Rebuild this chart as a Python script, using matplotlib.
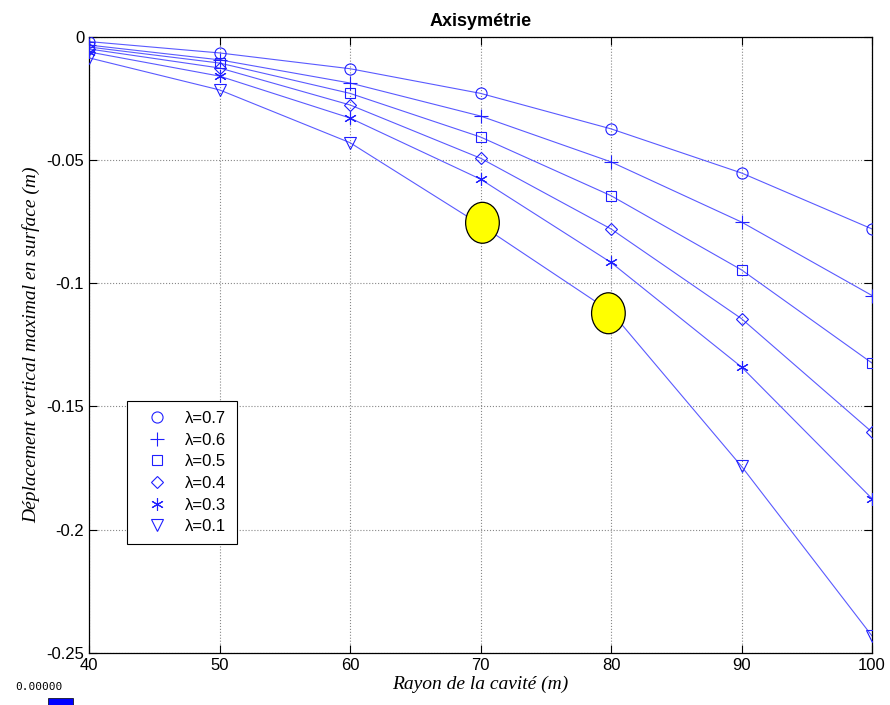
import matplotlib
matplotlib.use("Agg")
import matplotlib.pyplot as plt
from matplotlib.patches import Ellipse, Rectangle

rayon = [40, 50, 60, 70, 80, 90, 100]
lam_07 = [-0.0020, -0.0066, -0.0130, -0.0230, -0.0374, -0.0553, -0.0780]
lam_06 = [-0.0034, -0.0094, -0.0188, -0.0322, -0.0508, -0.0752, -0.1050]
lam_05 = [-0.0042, -0.0107, -0.0230, -0.0407, -0.0645, -0.0946, -0.1324]
lam_04 = [-0.0050, -0.0127, -0.0277, -0.0493, -0.0780, -0.1144, -0.1604]
lam_03 = [-0.0062, -0.0160, -0.0330, -0.0578, -0.0916, -0.1340, -0.1874]
lam_01 = [-0.0086, -0.0216, -0.0430, -0.0763, -0.1116, -0.1743, -0.2431]
series = [lam_07, lam_06, lam_05, lam_04, lam_03, lam_01]
labels = ["λ=0.7", "λ=0.6", "λ=0.5", "λ=0.4", "λ=0.3", "λ=0.1"]
markers = ["o", "+", "s", "D", (6, 2, 0), "v"]
msizes = [8, 10, 7, 6, 9, 9]

highlight_x = [70.15, 79.8]
highlight_y = [-0.0755, -0.1122]

xticks = [40, 50, 60, 70, 80, 90, 100]
yticks = [0, -0.05, -0.1, -0.15, -0.2, -0.25]
yticklabels = ["0", "-0.05", "-0.1", "-0.15", "-0.2", "-0.25"]

plt.rcParams['font.family'] = ['Liberation Sans', 'DejaVu Sans']
fig = plt.figure(figsize=(8.9, 7.05), dpi=100)
ax = fig.add_axes([0.1, 0.0738, 0.8798, 0.8742])

handles = []
for vals, lab, mk, ms in zip(series, labels, markers, msizes):
    ax.plot(rayon, vals, color='#5a5aff', lw=0.8, zorder=2)
    h, = ax.plot(rayon, vals, linestyle='none', marker=mk, markersize=ms,
                 markerfacecolor='none', markeredgecolor='#2020ff',
                 markeredgewidth=0.8, label=lab, zorder=3)
    handles.append(h)

for hx, hy in zip(highlight_x, highlight_y):
    ax.add_patch(Ellipse((hx, hy), 2.58, 0.0166, facecolor='#ffff00',
                         edgecolor='black', lw=0.9, zorder=4))

ax.set_xlim(40, 100)
ax.set_ylim(-0.25, 0)
ax.set_xticks(xticks)
ax.set_yticks(yticks)
ax.set_yticklabels(yticklabels)
ax.tick_params(direction='in', length=6, labelsize=12, top=True, right=True)
ax.grid(True, linestyle=':', color='#888888', lw=0.8)
for s in ax.spines.values():
    s.set_linewidth(0.9)

ax.set_title("Axisymétrie", fontsize=13, fontweight='bold', pad=8)
ax.set_xlabel("Rayon de la cavité (m)", fontsize=14, style='italic',
              family=['Liberation Serif', 'DejaVu Serif'], labelpad=2)
ax.set_ylabel("Déplacement vertical maximal en surface (m)", fontsize=14,
              style='italic', family=['Liberation Serif', 'DejaVu Serif'], labelpad=4)

leg = ax.legend(handles=handles, loc='upper left', bbox_to_anchor=(0.0486, 0.409),
                frameon=True, fancybox=False, edgecolor='black', fontsize=12,
                handlelength=2.4, handletextpad=0.5, labelspacing=0.4,
                borderpad=0.6, borderaxespad=0, framealpha=1)
leg.get_frame().set_linewidth(0.8)

fig.text(15/890, 1 - 687/705, "0.00000", fontsize=8, family='DejaVu Sans Mono',
         va='center', ha='left')
fig.patches.append(Rectangle((48/890, 0), 25/890, 7/705, transform=fig.transFigure,
                             facecolor='#0000ff', edgecolor='black', lw=0.5))

fig.savefig("out.png", dpi=100)
